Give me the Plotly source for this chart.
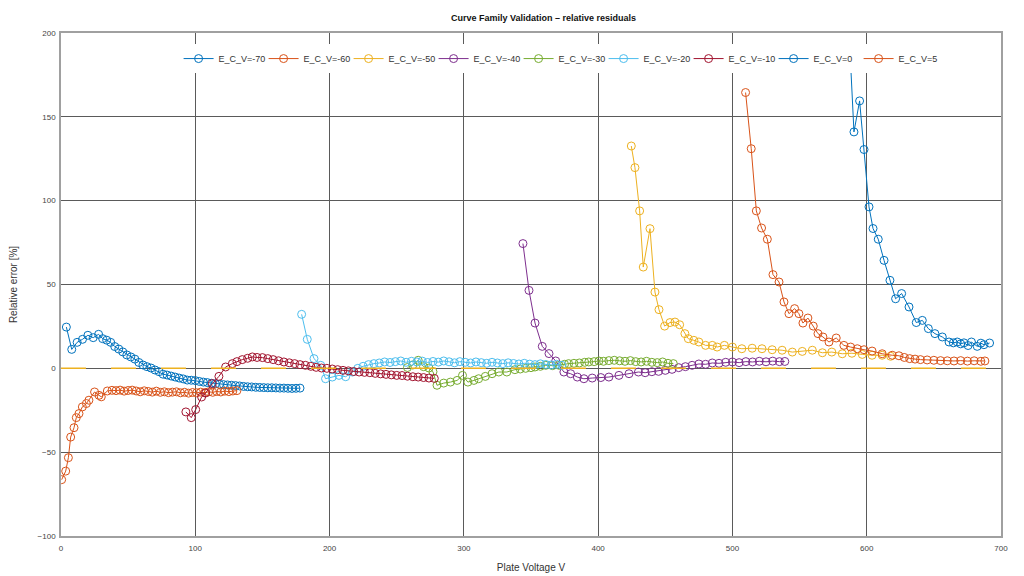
import plotly.graph_objects as go

# E_C_V = -70
v_m70 = [4, 8, 12, 16, 20, 24, 28, 31, 34, 37, 40, 43, 46, 49, 52, 55, 58, 61, 64, 67,
         70, 73, 76, 79, 82, 85, 88, 91, 94, 97, 100, 103, 106, 109, 112, 115, 118, 121,
         124, 127, 130, 133, 136, 139, 142, 145, 148, 151, 154, 157, 160, 163, 166, 169,
         172, 175, 178]
e_m70 = [24.6, 11.3, 15.5, 17.3, 19.7, 18.3, 20.3, 17.7, 16.8, 15.5, 13.0, 11.5, 9.8, 8.0,
         6.8, 5.5, 3.5, 2.0, 1.0, 0.2, -1.0, -2.0, -3.5, -4.0, -4.6, -5.2, -5.8, -6.3, -7.0,
         -7.1, -7.3, -7.8, -8.2, -8.5, -8.9, -9.2, -9.5, -9.7, -9.9, -10.1, -10.3, -10.5,
         -10.8, -11.0, -11.1, -11.3, -11.4, -11.5, -11.6, -11.6, -11.7, -11.8, -11.8, -11.9,
         -12.0, -11.9, -11.8]

# E_C_V = -60
v_m60 = [0.5, 3.5, 5.5, 7.2, 9.7, 11.4, 13.4, 15.9, 18.9, 20.8, 25, 28.3, 30, 34.5, 38, 41,
         44, 47, 50, 53, 56, 59, 62, 65, 68, 71, 74, 77, 80, 83, 86, 89, 92, 95, 98, 101, 104,
         107, 110, 113, 116, 119, 122, 125, 128, 131]
e_m60 = [-66.4, -61.3, -53.3, -41.0, -35.4, -29.4, -27.0, -23.0, -21.0, -19.0, -14.1, -16.1,
         -17.0, -13.5, -13.1, -13.3, -13.0, -13.6, -13.2, -13.0, -13.5, -14.0, -13.4, -13.8,
         -14.2, -13.6, -14.3, -14.0, -14.5, -14.2, -14.0, -14.6, -14.3, -14.8, -14.4, -14.6,
         -14.2, -14.5, -14.0, -14.3, -13.8, -14.1, -13.6, -13.9, -13.5, -13.3]

# E_C_V = -50
v_m50 = [424.7, 427.4, 430.9, 433.6, 438.6, 442.3, 445.3, 449.5, 453.5, 457.2, 460.7, 464.6,
         467.1, 471.3, 475, 480, 485, 488.6, 494, 500, 507, 514.7, 522, 529.6, 537, 544.6,
         552, 559.5, 567, 574, 581.8, 589, 596.7, 604, 611.5, 617.8]
e_m50 = [132.6, 119.7, 93.9, 60.4, 83.3, 45.5, 35.0, 25.2, 27.3, 27.6, 26.0, 20.7, 17.7, 16.7,
         15.7, 13.7, 13.7, 12.7, 13.7, 12.7, 11.7, 12.0, 11.7, 11.1, 10.8, 9.7, 10.1, 10.8,
         9.3, 9.7, 8.7, 9.0, 8.3, 7.8, 7.8, 7.2]

# E_C_V = -40
v_m40 = [344, 348.5, 353, 358.4, 363.4, 368.4, 374.5, 379.5, 384.5, 389.4, 395.6, 402, 408,
         415.5, 423, 430, 435, 440, 445, 450, 455, 460, 465, 470, 475, 480, 485, 490, 495,
         500, 505, 510, 515, 520, 525, 530, 535, 539]
e_m40 = [74.4, 46.5, 27.0, 13.1, 8.8, 4.4, -2.2, -3.2, -5.2, -6.2, -5.8, -5.5, -5.2, -4.2,
         -3.2, -2.2, -2.6, -2.0, -1.8, -1.2, -0.6, 0.4, 1.0, 1.8, 2.6, 2.4, 3.2, 3.0, 3.6,
         3.8, 3.4, 4.0, 3.8, 4.2, 3.9, 4.3, 4.0, 4.1]

# E_C_V = -30
v_m30 = [258, 262, 266, 270, 274, 277, 280, 285, 290, 295, 299, 303, 307.5, 311, 316, 321,
         326, 332, 338, 342, 346, 350, 353, 357, 361, 366, 371, 375, 378, 382, 386, 390, 393,
         397, 400.6, 404, 408, 412, 416, 420, 424, 428, 432, 436, 440, 444, 448, 452, 456]
e_m30 = [0.5, 2.0, 4.8, 1.0, 0.2, -2.0, -10.1, -8.8, -8.2, -7.2, -4.2, -8.2, -7.2, -6.2, -4.8,
         -3.2, -2.2, -2.2, -0.8, -0.4, 0.0, 0.4, 0.8, 1.2, 1.8, 1.6, 1.8, 2.4, 2.8, 3.0, 3.2,
         3.6, 3.8, 4.0, 4.4, 4.2, 4.6, 4.8, 4.5, 4.2, 4.6, 4.0, 3.8, 4.2, 3.6, 3.4, 3.8, 3.0,
         2.8]

# E_C_V = -20
v_m20 = [179.2, 183.4, 188.4, 193.4, 197, 202, 207, 212, 217, 221, 225, 229, 233, 237, 241,
         245, 249, 253, 257, 261, 265, 269, 273, 277, 281, 285, 289, 293, 297, 301, 305, 309,
         313, 317, 321, 325, 329, 333, 337, 341, 345, 349, 353, 357, 361, 365, 369, 373]
e_m20 = [32.2, 17.3, 5.8, 1.8, -6.2, -5.2, -4.2, -5.0, -2.2, 0.0, 1.2, 2.2, 2.8, 3.2, 3.8, 3.5,
         4.0, 4.4, 3.6, 4.2, 3.8, 4.3, 3.5, 4.1, 3.7, 4.4, 3.9, 3.3, 4.0, 3.6, 3.2, 3.8, 3.4,
         3.0, 3.6, 3.2, 2.8, 3.3, 2.9, 2.6, 3.0, 2.5, 2.2, 2.7, 2.3, 2.0, 2.4, 1.8]

# E_C_V = -10
v_m10 = [93, 97, 100.3, 104.7, 107.7, 112.7, 117.6, 122.6, 127.6, 131, 135, 139, 142.5, 146,
         150, 154, 158, 162, 166, 170, 174, 178, 182, 186, 190, 194, 198, 202, 206, 210, 214,
         218, 222, 226, 230, 234, 238, 242, 246, 250, 254, 258, 262, 266, 270, 274, 278]
e_m10 = [-26.0, -29.4, -24.6, -17.1, -14.7, -9.1, -4.8, 0.8, 2.8, 4.0, 5.2, 6.0, 6.8, 6.5, 6.4,
         5.8, 5.2, 4.5, 3.8, 3.3, 2.8, 2.2, 1.8, 1.2, 0.6, 0.2, 0.0, -0.4, -0.8, -1.2, -1.5,
         -1.9, -2.2, -2.4, -2.6, -3.0, -3.3, -3.6, -3.9, -4.2, -4.3, -4.7, -5.0, -5.2, -5.5,
         -5.8, -6.0]

# E_C_V = 0
v_0 = [587.5, 590.5, 594.7, 598, 601.7, 604.7, 608.6, 612.9, 617.3, 621.5, 626, 631.5, 636.9,
       641.4, 645.9, 650.8, 656.3, 661.3, 664.5, 667.4, 670, 672.4, 675.5, 678, 682.3, 685,
       687.3, 691.5]
e_0 = [190.0, 141.0, 159.5, 130.5, 96.3, 83.4, 77.0, 64.4, 52.5, 41.5, 44.6, 36.6, 27.3, 28.6,
       23.7, 20.7, 18.7, 15.7, 15.2, 15.7, 14.6, 15.2, 13.6, 15.7, 13.1, 15.0, 14.1, 15.1]

# E_C_V = 5
v_5 = [509.8, 514, 517.8, 521.7, 526, 530.2, 534.7, 538.4, 542.1, 546.3, 549.5, 552.5, 556.2,
       560.2, 563.7, 567.4, 571.9, 577.3, 583, 588, 593, 598, 604, 611.5, 619, 624, 628, 632,
       636, 640, 645, 650, 655, 660, 665, 670, 675, 680, 685, 688]
e_5 = [164.5, 131.0, 93.9, 83.7, 77.0, 55.9, 51.5, 39.6, 32.6, 35.6, 32.6, 27.0, 30.0, 25.2,
       20.7, 18.7, 15.7, 18.1, 13.7, 12.7, 11.7, 11.1, 10.3, 8.7, 7.8, 7.5, 6.5, 5.8, 5.5, 5.2,
       5.0, 4.8, 4.6, 4.5, 4.4, 4.6, 4.3, 4.5, 4.2, 4.4]

series = [
    ("E_C_V=-70", v_m70, e_m70, "#0072BD"),
    ("E_C_V=-60", v_m60, e_m60, "#D95319"),
    ("E_C_V=-50", v_m50, e_m50, "#EDB120"),
    ("E_C_V=-40", v_m40, e_m40, "#7E2F8E"),
    ("E_C_V=-30", v_m30, e_m30, "#77AC30"),
    ("E_C_V=-20", v_m20, e_m20, "#4DBEEE"),
    ("E_C_V=-10", v_m10, e_m10, "#A2142F"),
    ("E_C_V=0", v_0, e_0, "#0072BD"),
    ("E_C_V=5", v_5, e_5, "#D95319"),
]

zero_x = [0, 700]
zero_y = [0, 0]

FONT = "Liberation Sans, Arial, sans-serif"

fig = go.Figure()

for name, vx, ey, col in series:
    fig.add_trace(go.Scatter(
        x=vx, y=ey, mode="lines+markers", name=name,
        line=dict(color=col, width=1),
        marker=dict(symbol="circle-open", size=8, color=col, line=dict(width=1)),
    ))

# zero reference line
fig.add_trace(go.Scatter(
    x=zero_x, y=zero_y, mode="lines", showlegend=False,
    line=dict(color="#EDB120", width=1.5, dash="25px,25px"),
))

# page body adds an 8px offset, margins compensate for it
fig.update_layout(
    width=1024, height=576,
    paper_bgcolor="white", plot_bgcolor="white",
    margin=dict(l=53, r=31, t=25, b=48),
    font=dict(family=FONT, size=10, color="#333"),
    title=dict(text="<b>Curve Family Validation – relative residuals</b>",
               x=0.523, xanchor="center", y=0.983, yanchor="middle",
               font=dict(family=FONT, size=9, color="#111")),
    legend=dict(orientation="h", x=0.532, xanchor="center", y=0.978, yanchor="top",
                bgcolor="white", borderwidth=0, itemwidth=30,
                entrywidth=40, entrywidthmode="pixels",
                font=dict(family=FONT, size=9, color="#333")),
    showlegend=True,
)

fig.update_xaxes(
    range=[0, 700], tickvals=[0, 100, 200, 300, 400, 500, 600, 700],
    tickfont=dict(size=8, color="#444"), ticklabelstandoff=4,
    showgrid=True, gridcolor="#5a5a5a", gridwidth=1,
    showline=True, linecolor="#a0a0a0", linewidth=1.5, mirror=True,
    zeroline=False, ticks="", automargin=False,
    title=dict(text="Plate Voltage V", font=dict(family=FONT, size=10, color="#333"), standoff=12),
)
fig.update_yaxes(
    range=[-100, 200], tickvals=[-100, -50, 0, 50, 100, 150, 200],
    tickfont=dict(size=8, color="#444"), ticklabelstandoff=2,
    showgrid=True, gridcolor="#5a5a5a", gridwidth=1,
    showline=True, linecolor="#a0a0a0", linewidth=1.5, mirror=True,
    zeroline=False, ticks="", automargin=False,
    title=dict(text="Relative error [%]", font=dict(family=FONT, size=10, color="#333"), standoff=20),
)

fig.write_html("out.html")
